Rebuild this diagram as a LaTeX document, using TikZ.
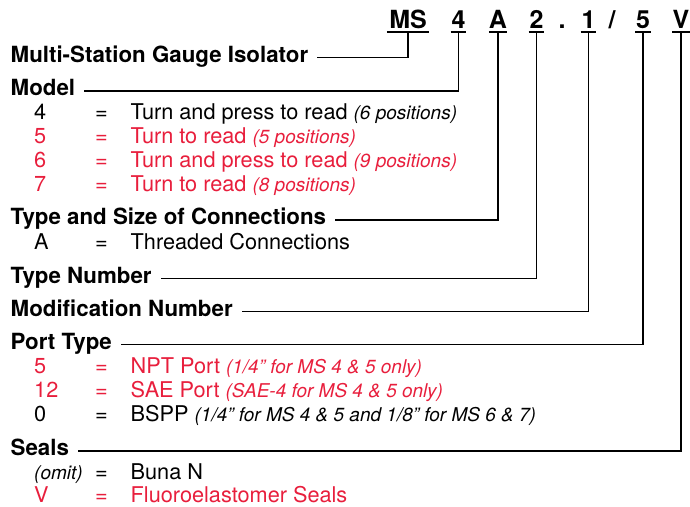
\documentclass[tikz,border=0pt]{standalone}
\usepackage{fontspec}
\setmainfont{TeX Gyre Heros}
\definecolor{pred}{RGB}{232,30,60}
\newcommand{\nt}[1]{{\fontsize{19}{24}\selectfont\itshape #1}}
\begin{document}
\begin{tikzpicture}[x=1pt,y=-1pt,
  code/.style={font=\fontsize{25}{28}\selectfont\bfseries, inner xsep=0pt, inner ysep=3.5pt, text depth=0pt, anchor=base, minimum width=15.5pt},
  uline/.style={line width=1.6pt},
  conn/.style={line width=1.2pt},
  hdr/.style={font=\fontsize{22.3}{24}\selectfont\bfseries, inner sep=0pt, anchor=base west},
  txt/.style={font=\fontsize{21.7}{24}\selectfont, inner sep=0pt, anchor=base west},
  eq/.style={font=\fontsize{21.7}{24}\selectfont, inner sep=0pt, anchor=base},
  red/.style={text=pred}]
\useasboundingbox (0,0) rectangle (690,506);

% code line
\node[code, minimum width=42pt] (cMS) at (408,28) {MS};
\node[code] (c4) at (458.5,28) {4};
\node[code] (cA) at (498,28) {A};
\node[code] (c2) at (536.5,28) {2};
\node[code] (cdot) at (562,28) {.};
\node[code] (c1) at (588.5,28) {1};
\node[code] (cslash) at (612,28) {/};
\node[code] (c5) at (643,28) {5};
\node[code] (cV) at (681,28) {V};
\foreach \n in {cMS,c4,cA,c2,c1,c5,cV}
  \draw[uline] (\n.south west) -- (\n.south east);

% headers
\node[hdr] (hMulti) at (10.5,62) {Multi-Station Gauge Isolator};
\node[hdr] (hModel) at (10.5,95.5) {Model};
\node[hdr] (hType) at (10.5,224.5) {Type and Size of Connections};
\node[hdr] (hTNum) at (10.5,283) {Type Number};
\node[hdr] (hMod) at (10.5,316) {Modification Number};
\node[hdr] (hPort) at (10.5,349) {Port Type};
\node[hdr] (hSeals) at (10.5,455.5) {Seals};

% connectors
\draw[conn] (cMS.south) |- ([xshift=9pt,yshift=4.5pt]hMulti.base east);
\draw[conn] (c4.south) |- ([xshift=9pt,yshift=4.5pt]hModel.base east);
\draw[conn] (cA.south) |- ([xshift=9pt,yshift=4.5pt]hType.base east);
\draw[conn] (c2.south) |- ([xshift=9pt,yshift=4.5pt]hTNum.base east);
\draw[conn] (c1.south) |- ([xshift=9pt,yshift=4.5pt]hMod.base east);
\draw[conn] (c5.south) |- ([xshift=9pt,yshift=4.5pt]hPort.base east);
\draw[conn] (cV.south) |- ([xshift=9pt,yshift=4.5pt]hSeals.base east);

% Model rows
\node[txt] (m4v) at (34,119.5) {4};
\node[eq] (m4e) at (101.5,119.5) {=};
\node[txt] (m4d) at (130.5,119.5) {Turn and press to read \nt{(6 positions)}};
\node[txt,red] (m5v) at (34,143.5) {5};
\node[eq,red] (m5e) at (101.5,143.5) {=};
\node[txt,red] (m5d) at (130.5,143.5) {Turn to read \nt{(5 positions)}};
\node[txt,red] (m6v) at (34,167.5) {6};
\node[eq,red] (m6e) at (101.5,167.5) {=};
\node[txt,red] (m6d) at (130.5,167.5) {Turn and press to read \nt{(9 positions)}};
\node[txt,red] (m7v) at (34,191.5) {7};
\node[eq,red] (m7e) at (101.5,191.5) {=};
\node[txt,red] (m7d) at (130.5,191.5) {Turn to read \nt{(8 positions)}};

% Type rows
\node[txt] (tAv) at (34,249) {A};
\node[eq] (tAe) at (101.5,249) {=};
\node[txt] (tAd) at (130.5,249) {Threaded Connections};

% Port rows
\node[txt,red] (p5v) at (34,373.5) {5};
\node[eq,red] (p5e) at (101.5,373.5) {=};
\node[txt,red] (p5d) at (130.5,373.5) {NPT Port \nt{(1/4” for MS 4 \& 5 only)}};
\node[txt,red] (p12v) at (34,397.5) {12};
\node[eq,red] (p12e) at (101.5,397.5) {=};
\node[txt,red] (p12d) at (130.5,397.5) {SAE Port \nt{(SAE-4 for MS 4 \& 5 only)}};
\node[txt] (p0v) at (34,421.5) {0};
\node[eq] (p0e) at (101.5,421.5) {=};
\node[txt] (p0d) at (130.5,421.5) {BSPP \nt{(1/4” for MS 4 \& 5 and 1/8” for MS 6 \& 7)}};

% Seals rows
\node[txt] (sOv) at (34,479.5) {\nt{(omit)}};
\node[eq] (sOe) at (101.5,479.5) {=};
\node[txt] (sOd) at (130.5,479.5) {Buna N};
\node[txt,red] (sVv) at (34,502) {V};
\node[eq,red] (sVe) at (101.5,502) {=};
\node[txt,red] (sVd) at (130.5,502) {Fluoroelastomer Seals};
\end{tikzpicture}
\end{document}
